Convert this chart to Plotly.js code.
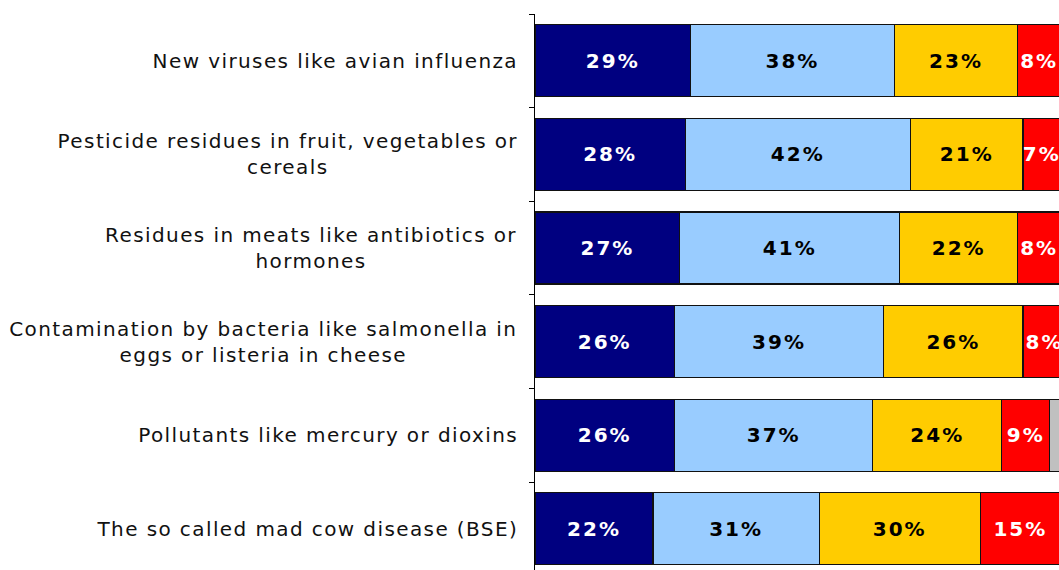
<!DOCTYPE html>
<html>
<head>
<meta charset="utf-8">
<script src="https://cdn.plot.ly/plotly-3.0.1.min.js"></script>
<style>
  html, body { margin: 0; padding: 0; overflow: hidden; background: #fff; }
  #chart { width: 1059px; height: 570px; }
  #chart .bartext { letter-spacing: 2px; }
  #chart .annotation-text { letter-spacing: 1.4px; }
</style>
</head>
<body>
<div id="chart"></div>
<script>
// ---- data ----
var categories = [
  "New viruses like avian influenza",
  "Pesticide residues in fruit, vegetables or<br>cereals",
  "Residues in meats like antibiotics or<br>hormones",
  "Contamination by bacteria like salmonella in<br>eggs or listeria in cheese",
  "Pollutants like mercury or dioxins",
  "The so called mad cow disease (BSE)"
];
var seriesNames = ["Very worried", "Fairly worried", "Not very worried", "Not at all worried", "Don't know"];
var veryWorried     = [29, 28, 27, 26, 26, 22];
var fairlyWorried   = [38, 42, 41, 39, 37, 31];
var notVeryWorried  = [23, 21, 22, 26, 24, 30];
var notAtAllWorried = [8, 7, 8, 8, 9, 15];
var dontKnow        = [2, 2, 2, 1, 4, 2];

var seriesValues = [veryWorried, fairlyWorried, notVeryWorried, notAtAllWorried, dontKnow];
var seriesColors = ["#000080", "#99CCFF", "#FFCC00", "#FF0000", "#C0C0C0"];
var textColors   = ["#FFFFFF", "#000000", "#000000", "#FFFFFF", "#000000"];
var showText     = [true, true, true, true, false];

var LABEL_SPACING = 1.4; // must match CSS letter-spacing of .annotation-text

var idx = categories.map(function (c, i) { return i; });

var traces = seriesValues.map(function (vals, s) {
  return {
    type: "bar",
    orientation: "h",
    name: seriesNames[s],
    y: idx,
    x: vals,
    text: showText[s] ? vals.map(function (v) { return v + "%"; }) : vals.map(function () { return ""; }),
    textposition: "inside",
    insidetextanchor: "middle",
    constraintext: "none",
    textangle: 0,
    insidetextfont: { family: "DejaVu Sans", size: 20, color: textColors[s], weight: "bold" },
    marker: { color: seriesColors[s], line: { color: "#111111", width: 1.2 } },
    hoverinfo: "none"
  };
});

var annotations = categories.map(function (c, i) {
  var maxLen = Math.max.apply(null, c.split("<br>").map(function (l) { return l.length; }));
  return {
    text: c,
    xref: "paper", x: 0, xanchor: "right",
    xshift: -15 - (LABEL_SPACING / 2) * maxLen,
    yref: "y", y: i, yanchor: "middle",
    align: "center",
    showarrow: false,
    font: { family: "DejaVu Sans", size: 20, color: "#111111" }
  };
});

var layout = {
  width: 1059,
  height: 570,
  margin: { l: 535, r: 0, t: 14, b: 0, pad: 0 },
  paper_bgcolor: "#FFFFFF",
  plot_bgcolor: "#FFFFFF",
  barmode: "stack",
  bargap: 0.23,
  showlegend: false,
  xaxis: {
    range: [0, 97.7],
    visible: false,
    showgrid: false,
    zeroline: false
  },
  yaxis: {
    type: "linear",
    range: [5.44, -0.5],
    tickmode: "array",
    tickvals: [-0.5, 0.5, 1.5, 2.5, 3.5, 4.5, 5.5],
    showticklabels: false,
    ticks: "outside",
    ticklen: 5,
    tickwidth: 1,
    tickcolor: "#000000",
    showline: true,
    linecolor: "#000000",
    linewidth: 1,
    showgrid: false,
    zeroline: false
  },
  annotations: annotations
};

Plotly.newPlot("chart", traces, layout, { displayModeBar: false, staticPlot: true });
</script>
</body>
</html>
